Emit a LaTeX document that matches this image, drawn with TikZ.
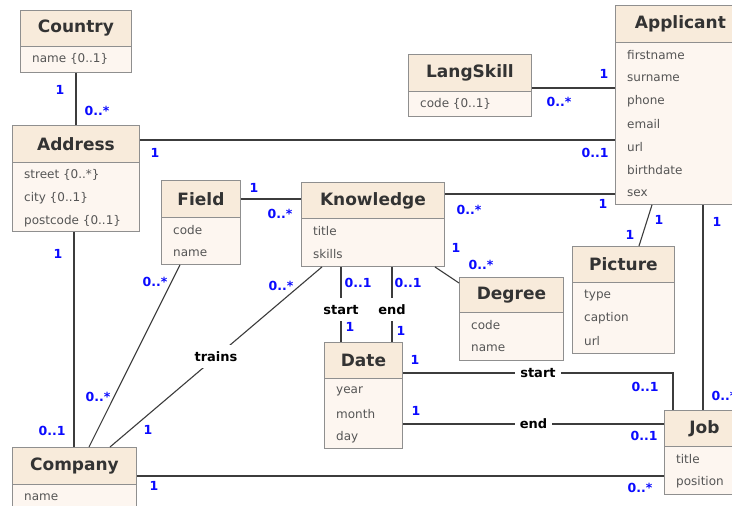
\documentclass[tikz,border=0pt]{standalone}
\usepackage{fontspec}
\setmainfont{DejaVu Sans}

\definecolor{headfill}{HTML}{F8EBDB}
\definecolor{bodyfill}{HTML}{FDF6F0}
\definecolor{boxline}{HTML}{8F8F8F}
\definecolor{linkcol}{HTML}{3C3C3C}
\definecolor{titletext}{HTML}{333333}
\definecolor{attrtext}{HTML}{555555}
\definecolor{multblue}{HTML}{0A0AFF}

% UML class: name, x, y, width, header height, total height, title, attributes
\newcommand\umlclass[8]{%
  \node[classbody, minimum width=#4pt, minimum height=#6pt] (#1) at (#2,#3) {};
  \node[classhead, minimum width=#4pt, minimum height=#5pt] (#1-head) at (#1.north west) {#7};
  \foreach \a [count=\i] in {#8}
    \node[attr] (#1-attr\i) at ([xshift=12pt, yshift={-(12.5+23*(\i-1))}]#1-head.south west) {\a};
}

\begin{document}
\begin{tikzpicture}[x=1pt,y=-1pt,
  classbody/.style={draw=boxline, fill=bodyfill, line width=0.9pt, anchor=north west, inner sep=0pt},
  classhead/.style={draw=boxline, fill=headfill, line width=0.9pt, anchor=north west, inner sep=0pt,
    font=\fontsize{17}{20}\selectfont\bfseries, text=titletext},
  attr/.style={anchor=west, inner sep=0pt, font=\fontsize{12}{14}\selectfont, text=attrtext},
  link/.style={draw=linkcol, line width=1.1pt},
  mult/.style={font=\fontsize{12.5}{14}\selectfont\bfseries, text=multblue, inner sep=0pt},
  role/.style={fill=white, font=\fontsize{13}{15}\selectfont\bfseries, text=black,
    inner xsep=5pt, inner ysep=0pt, minimum height=23pt}
]
\useasboundingbox (0,0) rectangle (732,506);
\clip (0,0) rectangle (732,506);
\fill[white] (0,0) rectangle (732,506);

% ---- classes ----
\umlclass{country}{20}{10}{111}{36}{62}{Country}{name \{0..1\}}
\umlclass{address}{12}{125}{127}{37}{106}{Address}{street \{0..*\}, city \{0..1\}, postcode \{0..1\}}
\umlclass{field}{161}{180}{79}{37}{84}{Field}{code, name}
\umlclass{knowledge}{301}{182}{143}{36}{84}{Knowledge}{title, skills}
\umlclass{degree}{459}{277}{104}{35}{83}{Degree}{code, name}
\umlclass{date}{324}{342}{78}{36}{106}{Date}{year, month, day}
\umlclass{langskill}{408}{54}{123}{37}{62}{LangSkill}{code \{0..1\}}
\umlclass{applicant}{615}{5}{130}{37}{199}{Applicant}{firstname, surname, phone, email, url, birthdate, sex}
\umlclass{picture}{572}{246}{102}{36}{107}{Picture}{type, caption, url}
\umlclass{job}{664}{410}{80}{36}{84}{Job}{title, position}
\umlclass{company}{12}{447}{124}{37}{80}{Company}{name}

% ---- attachment points ----
\coordinate (ad-ap) at ([yshift=-15pt]address.north east);
\coordinate (ls-ap) at ([yshift=-34pt]langskill.north east);
\coordinate (kn-ap) at ([yshift=-12pt]knowledge.north east);
\coordinate (fi-kn) at ([yshift=-19pt]field.north east);
\coordinate (kn-de) at ([xshift=-10pt]knowledge.south east);
\coordinate (de-kn) at ([yshift=-6pt]degree.north west);
\coordinate (kn-st) at ([xshift=40pt]knowledge.south west);
\coordinate (kn-en) at ([xshift=91pt]knowledge.south west);
\coordinate (kn-co) at ([xshift=21pt]knowledge.south west);
\coordinate (co-kn) at ([xshift=98pt]company.north west);
\coordinate (fi-co) at ([xshift=19pt]field.south west);
\coordinate (co-fi) at ([xshift=77pt]company.north west);
\coordinate (ad-co) at ([xshift=62pt]address.south west);
\coordinate (co-jo) at ([yshift=-29pt]company.north east);
\coordinate (da-st) at ([yshift=-31pt]date.north east);
\coordinate (jo-st) at ([xshift=9pt]job.north west);
\coordinate (da-en) at ([yshift=-82pt]date.north east);
\coordinate (ap-pi) at ([xshift=37pt]applicant.south west);
\coordinate (pi-ap) at ([xshift=67pt]picture.north west);
\coordinate (ap-jo) at ([xshift=88pt]applicant.south west);

% ---- associations ----
\draw[link] (country.south) -- (address.north);
\draw[link] (ad-ap) -- (ad-ap -| applicant.west);
\draw[link] (ls-ap) -- (ls-ap -| applicant.west);
\draw[link] (kn-ap) -- (kn-ap -| applicant.west);
\draw[link] (fi-kn) -- (fi-kn -| knowledge.west);
\draw[link] (kn-de) -- (de-kn);
\draw[link] (kn-st) -- node[role, pos=0.57] (role-kstart) {start} (kn-st |- date.north);
\draw[link] (kn-en) -- node[role, pos=0.57] (role-kend) {end} (kn-en |- date.north);
\draw[link] (kn-co) -- node[role] (role-trains) {trains} (co-kn);
\draw[link] (fi-co) -- (co-fi);
\draw[link] (ad-co) -- (ad-co |- company.north);
\draw[link] (co-jo) -- (co-jo -| job.west);
\draw[link] (da-st) -- node[role] (role-jstart) {start} (da-st -| jo-st) -- (jo-st);
\draw[link] (da-en) -- node[role] (role-jend) {end} (da-en -| job.west);
\draw[link] (ap-pi) -- (pi-ap);
\draw[link] (ap-jo) -- (ap-jo |- job.north);

% ---- multiplicities ----
\node[mult] (m1)  at (60,90)   {1};
\node[mult] (m2)  at (97,111)  {0..*};
\node[mult] (m3)  at (155,153) {1};
\node[mult] (m4)  at (595,153) {0..1};
\node[mult] (m5)  at (559,102) {0..*};
\node[mult] (m6)  at (604,74)  {1};
\node[mult] (m7)  at (469,210) {0..*};
\node[mult] (m8)  at (603,204) {1};
\node[mult] (m9)  at (254,188) {1};
\node[mult] (m10) at (280,214) {0..*};
\node[mult] (m11) at (456,248) {1};
\node[mult] (m12) at (481,265) {0..*};
\node[mult] (m13) at (358,283) {0..1};
\node[mult] (m14) at (350,327) {1};
\node[mult] (m15) at (408,283) {0..1};
\node[mult] (m16) at (401,331) {1};
\node[mult] (m17) at (281,286) {0..*};
\node[mult] (m18) at (148,430) {1};
\node[mult] (m19) at (155,282) {0..*};
\node[mult] (m20) at (98,397)  {0..*};
\node[mult] (m21) at (58,254)  {1};
\node[mult] (m22) at (52,431)  {0..1};
\node[mult] (m23) at (154,486) {1};
\node[mult] (m24) at (640,488) {0..*};
\node[mult] (m25) at (415,360) {1};
\node[mult] (m26) at (645,387) {0..1};
\node[mult] (m27) at (416,411) {1};
\node[mult] (m28) at (644,436) {0..1};
\node[mult] (m29) at (659,220) {1};
\node[mult] (m30) at (630,235) {1};
\node[mult] (m31) at (717,222) {1};
\node[mult] (m32) at (724,396) {0..*};
\end{tikzpicture}
\end{document}
